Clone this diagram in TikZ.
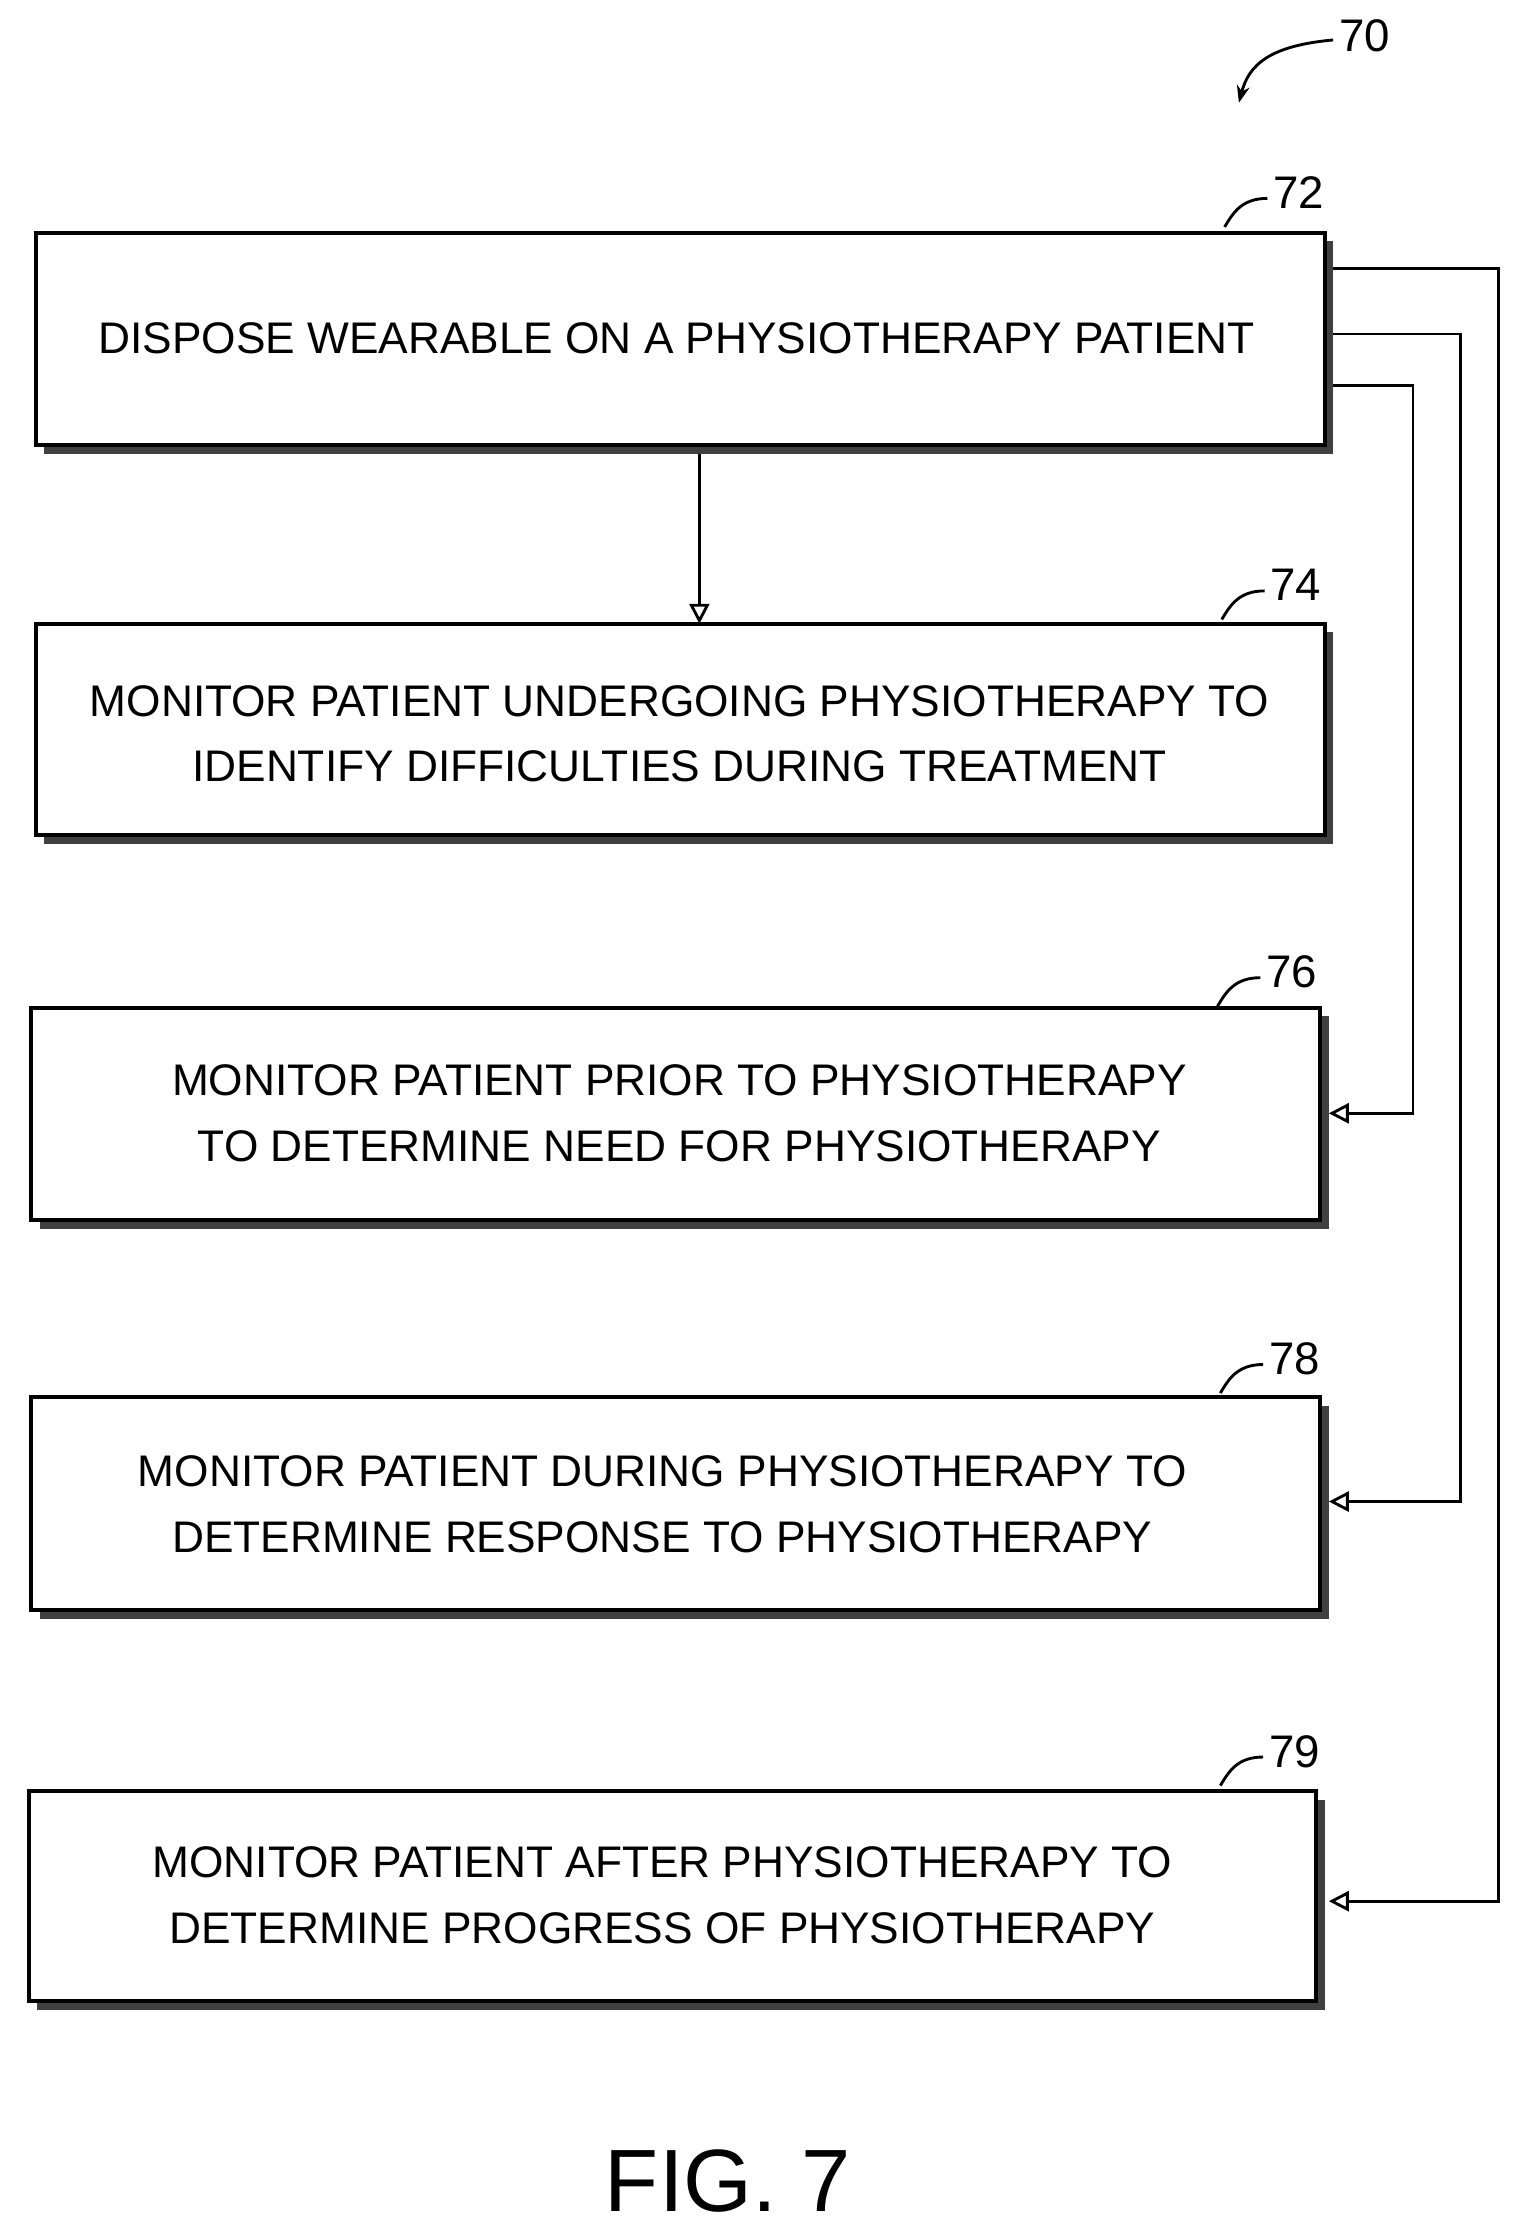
\documentclass[tikz,border=0pt]{standalone}
\usepackage{fontspec}
\setmainfont{Liberation Sans}
\usetikzlibrary{arrows.meta}
\begin{document}
\begin{tikzpicture}[x=0.5pt,y=-0.5pt,
 box/.style={draw,line width=1.4pt,fill=white},
 shad/.style={fill=black!75},
 txt/.style={font=\fontsize{15.5}{23}\selectfont,align=center},
 con/.style={line width=1pt,-{Triangle[open,length=7pt,width=7pt]}},
 ref/.style={font=\fontsize{16}{16}\selectfont}]
\useasboundingbox (0,0) rectangle (1072,1568);
% boxes
\foreach \n/\xa/\ya/\xb/\yb in {b72/25/163/928/312, b74/25/437/928/585, b76/22/706/925/855, b78/22/979/925/1128, b79/20/1255/922/1402}{
 \fill[shad] (\xa+6,\ya+6) rectangle (\xb+6,\yb+6);
 \draw[box] (\xa,\ya) rectangle (\xb,\yb);
 \coordinate (\n) at ({(\xa+\xb)/2},{(\ya+\yb)/2});
}
\node[txt] (t72) at (474,237) {DISPOSE WEARABLE ON A PHYSIOTHERAPY PATIENT};
\node[txt] (t74) at (476,514) {MONITOR PATIENT UNDERGOING PHYSIOTHERAPY TO\\IDENTIFY DIFFICULTIES DURING TREATMENT};
\node[txt] (t76) at (476,780) {MONITOR PATIENT PRIOR TO PHYSIOTHERAPY\\TO DETERMINE NEED FOR PHYSIOTHERAPY};
\node[txt] (t78) at (464,1054) {MONITOR PATIENT DURING PHYSIOTHERAPY TO\\DETERMINE RESPONSE TO PHYSIOTHERAPY};
\node[txt] (t79) at (464,1328) {MONITOR PATIENT AFTER PHYSIOTHERAPY TO\\DETERMINE PROGRESS OF PHYSIOTHERAPY};
% connectors
\coordinate (s1) at (490,318); \coordinate (e1) at (490,437);
\draw[con] (s1) -- (e1);
\coordinate (a1) at (934,188); \coordinate (a2) at (931,1332);
\draw[con] (a1) -- (1050,188) -- (1050,1332) -- (a2);
\coordinate (c1) at (934,234); \coordinate (c2) at (931,1052);
\draw[con] (c1) -- (1023,234) -- (1023,1052) -- (c2);
\coordinate (d1) at (934,270); \coordinate (d2) at (931,780);
\draw[con] (d1) -- (990,270) -- (990,780) -- (d2);
% reference labels
\foreach \lab/\x/\y in {72/910/135, 74/908/410, 76/905/681, 78/907/952, 79/907/1227}{
 \node[ref] (r\lab) at (\x,\y) {\lab};
 \draw[line width=1pt] (\x-22,\y+4) .. controls (\x-40,\y+4) and (\x-46,\y+14) .. (\x-52,\y+24);
}
\node[ref] (r70) at (956,25) {70};
\draw[line width=1pt,-{Stealth[length=6pt]}] (934,28) .. controls (890,32) and (875,45) .. (868,72);
\node[font=\fontsize{31}{31}\selectfont] (fig) at (510,1528) {FIG. 7};
\end{tikzpicture}
\end{document}
